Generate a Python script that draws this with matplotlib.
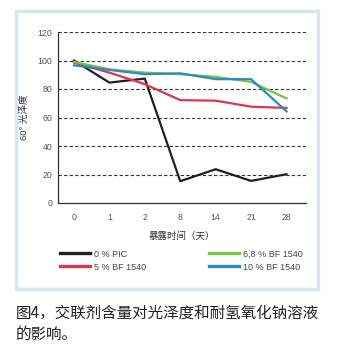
import matplotlib.pyplot as plt
from matplotlib.patches import Rectangle

plt.rcParams['font.family'] = ['Liberation Sans', 'Noto Sans CJK SC', 'DejaVu Sans']
cjk = ['Noto Sans CJK SC', 'DejaVu Sans']

days = ['0', '1', '2', '8', '14', '21', '28']
pic_0 = [100, 84.5, 87.3, 15.3, 23.7, 15.5, 20.2]
bf_5 = [98.5, 91.5, 83.4, 72.2, 71.8, 67.6, 66.7]
bf_68 = [99, 93.8, 91.5, 90.4, 88.5, 85, 73.4]
bf_10 = [96.6, 93.4, 90.4, 91, 86.9, 86.9, 64.3]
series_names = ['0 % PIC', '5 % BF 1540', '6,8 % BF 1540', '10 % BF 1540']
series_colors = ['#231f20', '#e0334d', '#7dc242', '#2b8cc4']
y_ticks = [0, 20, 40, 60, 80, 100, 120]

fig = plt.figure(figsize=(3.37, 3.52), dpi=100)
fig.patch.set_facecolor('white')

# light blue frame around the chart area
fig.patches.append(Rectangle((16 / 337, 1 - 289 / 352), 302 / 337, 278 / 352,
                             transform=fig.transFigure, facecolor='white',
                             edgecolor='#d9e5f1', linewidth=2.5, zorder=-5))

ax = fig.add_axes([58 / 337, 1 - 203 / 352, 248 / 337, 171 / 352])
ax.set_facecolor('none')
x = list(range(len(days)))
for vals, color in zip([pic_0, bf_5, bf_68, bf_10], series_colors):
    ax.plot(x, vals, color=color, linewidth=1.6, zorder=3)

ax.set_xlim(-0.45, 6.55)
ax.set_ylim(0, 120)
ax.set_xticks(x)
ax.set_xticklabels(days)
ax.set_yticks(y_ticks)
for y in y_ticks[1:]:
    ax.axhline(y, color='#333333', linestyle=(0, (3, 2)), linewidth=0.8, zorder=1)
for s in ['top', 'right']:
    ax.spines[s].set_visible(False)
for s in ['left', 'bottom']:
    ax.spines[s].set_color('#333333')
    ax.spines[s].set_linewidth(0.9)
ax.tick_params(length=0, labelsize=6.3, labelcolor='#555555')
ax.tick_params(axis='x', pad=7)
ax.tick_params(axis='y', pad=4)
ax.set_ylabel('60° 光泽度', fontsize=6.8, color='#333333', labelpad=6)
ax.set_xlabel('暴露时间（天）', fontsize=6.8, color='#333333', labelpad=7,
              family=cjk)

handles = [plt.Line2D([], [], color=c, linewidth=2.4) for c in series_colors]
fig.legend(handles, series_names, loc='upper left',
           bbox_to_anchor=(55 / 337, 1 - 245 / 352), ncol=2, frameon=False,
           fontsize=6.5, handlelength=3.4, handletextpad=0.45,
           columnspacing=6.9, labelspacing=0.45, borderpad=0,
           labelcolor='#444444')

fig.text(16 / 337, 1 - 313 / 352, '图4，交联剂含量对光泽度和耐氢氧化钠溶液',
         fontsize=11.2, color='#222222', va='center', ha='left', family=cjk)
fig.text(16 / 337, 1 - 334 / 352, '的影响。',
         fontsize=11.2, color='#222222', va='center', ha='left', family=cjk)

fig.savefig('out.png', dpi=100)
